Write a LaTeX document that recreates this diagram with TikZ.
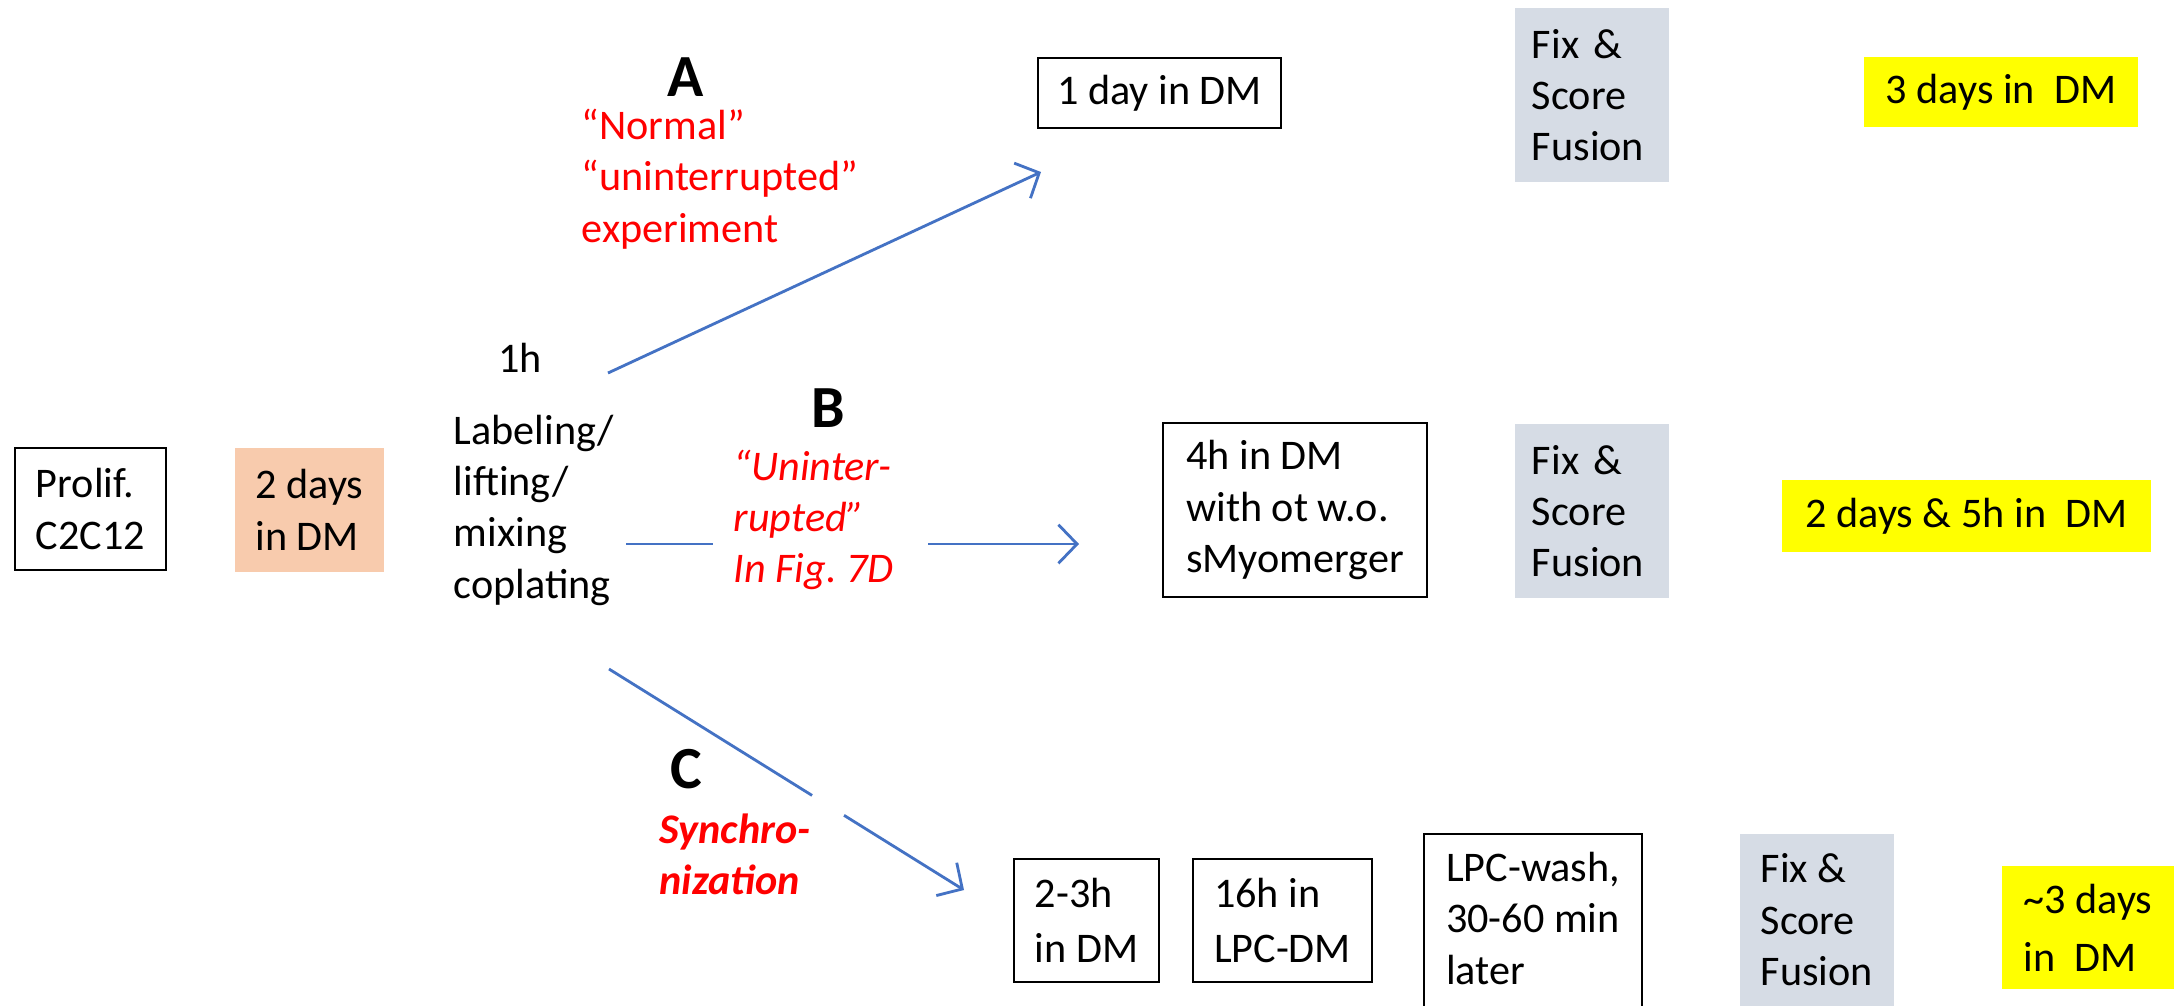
\documentclass[tikz,border=0pt]{standalone}
\usepackage{fontspec}
\setmainfont{Carlito}
\usetikzlibrary{arrows.meta,calc}
\definecolor{connblue}{HTML}{4472C4}
\definecolor{peach}{HTML}{F8CBAD}
\definecolor{greyb}{HTML}{D6DCE5}
\definecolor{hl}{HTML}{FFFF00}
\definecolor{redtxt}{HTML}{FF0000}
\begin{document}
\begin{tikzpicture}[x=0.01cm,y=-0.01cm,
  txt/.style={font=\fontsize{12pt}{14.6pt}\selectfont, inner sep=0pt, align=left},
  wbox/.style={txt, draw=black, line width=0.6pt},
  gbox/.style={txt, fill=greyb, text width=1.2cm, inner xsep=0.17cm},
  ybox/.style={txt, fill=hl},
  letter/.style={font=\fontsize{17pt}{20pt}\selectfont\bfseries, inner sep=0pt},
  note/.style={txt, text=redtxt},
  noteit/.style={note, font=\fontsize{12pt}{14.6pt}\selectfont\itshape},
  notebi/.style={note, font=\fontsize{12pt}{14.6pt}\selectfont\bfseries\itshape},
  conn/.style={draw=connblue, line width=0.8pt},
  arr/.style={conn, -{Straight Barb[length=5.3pt,width=11pt]}}
]
\useasboundingbox (0,0) rectangle (2181,1005);
\fill[white] (0,0) rectangle (2181,1005);

% left part
\node[wbox, minimum width=1.51cm, minimum height=1.22cm] (prolif) at (90.5,509) {Prolif.\\C2C12};
\node[txt, fill=peach, minimum width=1.49cm, minimum height=1.24cm] (dm2) at (309.5,510) {2 days\\in DM};
\node[txt] (oneh) at (520,358) {1h};
\node[txt, anchor=west] (lab) at (453,510) {Labeling/\\lifting/\\mixing\\coplating};

% branch A
\node[letter] (A) at (686,77) {A};
\node[note, anchor=west] (nA) at (581,179) {“Normal”\\“uninterrupted”\\experiment};
\coordinate (aS) at (608,373);
\coordinate (aE) at (1041,172);
\draw[arr] (aS) -- (aE);
\node[wbox, minimum width=2.43cm, minimum height=0.70cm] (d1) at (1159.5,93) {1 day in DM};
\node[gbox, minimum height=1.74cm] (fA) at (1592,95) {Fix \&\\Score\\Fusion};
\node[ybox, minimum width=2.74cm, minimum height=0.70cm] (yA) at (2001,92) {3 days in\ \ DM};

% branch B
\node[letter] (B) at (828,408) {B};
\node[noteit, anchor=west] (nB) at (733,520) {“Uninter-\\rupted”\\In Fig.\ 7D};
\coordinate (bS) at (626,544);
\coordinate (b1) at (713,544);
\coordinate (b2) at (928,544);
\coordinate (bE) at (1079,544);
\draw[conn] (bS) -- (b1);
\draw[arr] (b2) -- (bE);
\node[wbox, minimum width=2.64cm, minimum height=1.74cm] (b4) at (1295,510) {4h in DM\\with ot w.o.\\sMyomerger};
\node[gbox, minimum height=1.74cm] (fB) at (1592,511) {Fix \&\\Score\\Fusion};
\node[ybox, minimum width=3.69cm, minimum height=0.72cm] (yB) at (1966.5,516) {2 days \& 5h in\ \ DM};

% branch C
\node[letter] (C) at (686,769) {C};
\node[notebi, anchor=west] (nC) at (659,854) {Synchro-\\nization};
\coordinate (cS) at (609,669);
\coordinate (cE) at (964,890);
\coordinate (cg1) at ($(cS)!0.572!(cE)$);
\coordinate (cg2) at ($(cS)!0.662!(cE)$);
\draw[conn] (cS) -- (cg1);
\draw[arr] (cg2) -- (cE);
\node[wbox, font=\fontsize{12pt}{15.6pt}\selectfont, minimum width=1.45cm, minimum height=1.23cm] (c1) at (1086.5,920.5) {2-3h\\in DM};
\node[wbox, font=\fontsize{12pt}{15.6pt}\selectfont, minimum width=1.79cm, minimum height=1.23cm] (c2) at (1282.5,920.5) {16h in\\LPC-DM};
\node[wbox, anchor=north west, minimum width=2.18cm, inner xsep=0.19cm, inner ysep=0.18cm, text depth=2.2cm] (c3) at (1423,833) {LPC-wash,\\30-60 min\\later};
\node[txt, fill=greyb, anchor=north west, minimum width=1.54cm, inner xsep=0.15cm, inner ysep=0.2cm, text depth=2.2cm] (fC) at (1739,833) {Fix \&\\Score\\Fusion};
\node[ybox, font=\fontsize{12pt}{16.5pt}\selectfont, minimum width=1.72cm, minimum height=1.23cm] (yC) at (2088,927.5) {\textasciitilde3 days\\in\ \ DM};
\end{tikzpicture}
\end{document}
